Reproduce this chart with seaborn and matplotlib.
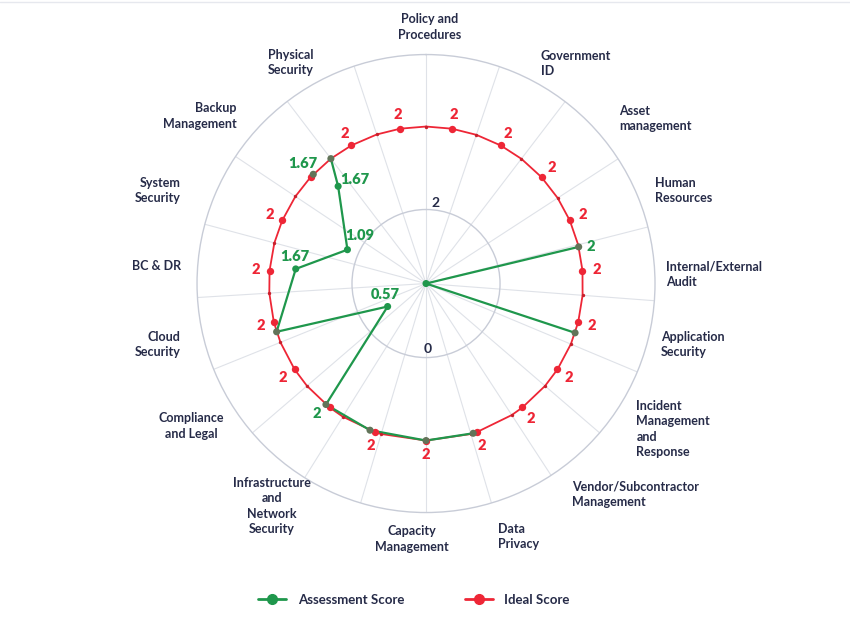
import numpy as np
import pandas as pd
import matplotlib
import matplotlib.pyplot as plt
from matplotlib.lines import Line2D
import seaborn as sns

matplotlib.use("Agg")

# labels round the chart, in clockwise order from the top
categories = [
    "Policy and\nProcedures", "Government\nID", "Asset\nmanagement",
    "Human\nResources", "Internal/External\nAudit", "Application\nSecurity",
    "Incident\nManagement\nand\nResponse", "Vendor/Subcontractor\nManagement",
    "Data\nPrivacy", "Capacity\nManagement",
    "Infrastructure\nand\nNetwork\nSecurity", "Compliance\nand Legal",
    "Cloud\nSecurity", "BC & DR", "System\nSecurity", "Backup\nManagement",
    "Physical\nSecurity",
]

# ideal score: 19 main points, all at 2
ideal_scores = [2] * 19
ideal_labels = ["2"] * 19
ideal_labels[11] = ""
ideal_labels[16] = ""

# spokes (degrees clockwise from top); the ideal line has a small dot on each
spoke_angles = [0, 18.7, 37.4, 57, 75.7, 94.3, 112.7, 130.7, 146.9, 163.4,
                180, 196.6, 212, 229.3, 248, 266.5, 285, 303.7, 322.7, 341.7]

# assessment score as drawn: two line pieces plus one loose point
assess_piece = [0, 0, 0, 1, 1, 1, 1, 1, 1, 1, 1, 1, 1, 2]
assess_angles = [76.5, 90, 108.3, 322.7, 317.9, 293.3, 276.4, 252.1, 239.1,
                 219.6, 200.9, 180, 162.5, 314.1]
assess_scores = [2, 0, 2, 2, 1.67, 1.09, 1.67, 2, 0.57, 2, 2, 2, 2, 2]
assess_labels = ["2", "", "", "", "1.67", "1.09", "1.67", "", "0.57", "2",
                 "", "", "", "1.67"]

# layout only: where the category labels sit (angle deg, radius, alignment)
label_layout = [
    (0.9, 3.27, "center"), (27.6, 3.16, "left"), (49.5, 3.24, "left"),
    (67.9, 3.15, "left"), (87.7, 3.06, "left"), (104.6, 3.09, "left"),
    (124.7, 3.26, "left"), (145.3, 3.26, "left"), (164.1, 3.35, "left"),
    (183.1, 3.26, "center"), (214.7, 3.45, "center"), (238.8, 3.50, "center"),
    (256.1, 3.22, "right"), (274.1, 3.13, "right"), (290.8, 3.34, "right"),
    (311.5, 3.22, "right"), (324.4, 3.46, "left"),
]
# layout only: offsets (points) of the assessment value labels
assess_offsets = [(8.6, 0), None, None, None, (12, 5), (8.6, 10), (-0.7, 8.6),
                  None, (-1.4, 8.6), (-6.5, -6.5), None, None, None, (-7.2, 7.9)]

RED = "#ee2636"
GREEN = "#1f974c"
OVERLAP = "#627459"
NAVY = "#262b48"
GRID = "#dfe2e8"
RING = "#c8ccd7"

sns.set_theme(style="white")
plt.rcParams["font.family"] = ["Lato", "DejaVu Sans"]

fig = plt.figure(figsize=(8.5, 6.22), dpi=100)
ax = fig.add_axes([0.2318, 0.176, 0.5388, 0.7363], projection="polar")
ax.set_theta_zero_location("N")
ax.set_theta_direction(-1)
ax.set_ylim(0, 2.917)

# faint card edge along the top
fig.add_artist(Line2D([0, 1], [0.9965, 0.9965], color="#e6e8ee", lw=1))

# ideal line: main points plus the spoke dots, joined in angle order
step = 360 / len(ideal_scores)
ideal_angles = [(i + 0.5) * step for i in range(len(ideal_scores))]
ideal = pd.DataFrame({"theta": np.deg2rad(ideal_angles), "r": ideal_scores})
spokes = pd.DataFrame({"theta": np.deg2rad(spoke_angles), "r": 2})
ring = pd.concat([ideal, spokes]).sort_values("theta")
ring = pd.concat([ring, ring.iloc[[0]].assign(theta=ring.theta.iloc[0] + 2 * np.pi)])
ring["unit"] = 0
sns.lineplot(data=ring, x="theta", y="r", units="unit", estimator=None,
             sort=False, color=RED, lw=1.3, ax=ax, zorder=2, legend=False)

assess = pd.DataFrame({"theta": np.deg2rad(assess_angles), "r": assess_scores,
                       "piece": assess_piece})
sns.lineplot(data=assess, x="theta", y="r", units="piece", estimator=None,
             sort=False, color=GREEN, lw=1.6, ax=ax, zorder=3, legend=False)

sns.scatterplot(data=spokes, x="theta", y="r", color="#c8202c", s=6,
                linewidth=0, ax=ax, zorder=4, legend=False)
sns.scatterplot(data=ideal, x="theta", y="r", color=RED, s=28,
                linewidth=0, ax=ax, zorder=4, legend=False)
assess["colour"] = np.where(assess.r >= 2, OVERLAP, GREEN)
ax.scatter(assess.theta, assess.r, c=assess.colour, s=26, linewidths=0, zorder=5)

for t, r, txt in zip(ideal.theta, ideal.r, ideal_labels):
    if txt:
        ax.annotate(txt, (t, r), xytext=(10 * np.sin(t), 10 * np.cos(t)),
                    textcoords="offset points", ha="center", va="center",
                    color=RED, fontsize=10.5, fontweight="heavy", zorder=6)
for t, r, txt, off in zip(assess.theta, assess.r, assess_labels, assess_offsets):
    if txt:
        ax.annotate(txt, (t, r), xytext=off, textcoords="offset points",
                    ha="center", va="center", color=GREEN, fontsize=10.5,
                    fontweight="heavy", zorder=6)

# grid: spokes, one inner ring, the outer ring
ax.set_xticks(np.deg2rad(spoke_angles))
ax.set_xticklabels([])
ax.set_yticks([0.943])
ax.set_yticklabels([])
ax.grid(True)
ax.xaxis.grid(color=GRID, lw=0.8)
ax.yaxis.grid(color=RING, lw=1.0)
ax.spines["polar"].set_color(RING)
ax.spines["polar"].set_linewidth(1.0)
ax.set_xlabel("")
ax.set_ylabel("")

ax.text(np.deg2rad(6.4), 1.03, "2", color=NAVY, fontsize=10,
        fontweight="bold", ha="center", va="center")
ax.text(np.deg2rad(178.3), 0.835, "0", color=NAVY, fontsize=10,
        fontweight="bold", ha="center", va="center")

for name, (ang, rad, ha) in zip(categories, label_layout):
    ax.text(np.deg2rad(ang), rad, name, ha=ha, va="center", color=NAVY,
            fontsize=9, fontweight="bold", linespacing=1.35, clip_on=False,
            multialignment=ha)

handles = [
    Line2D([], [], color=GREEN, lw=2, marker="o", ms=7),
    Line2D([], [], color=RED, lw=2, marker="o", ms=7),
]
fig.legend(handles, ["Assessment Score", "Ideal Score"], loc="center",
           bbox_to_anchor=(0.487, 1 - 600 / 622), ncol=2, frameon=False,
           prop={"size": 9.5, "weight": "bold"}, labelcolor=NAVY,
           handlelength=2.1, handletextpad=0.9, columnspacing=4.6)

fig.savefig("out.png", dpi=100, facecolor="white")
